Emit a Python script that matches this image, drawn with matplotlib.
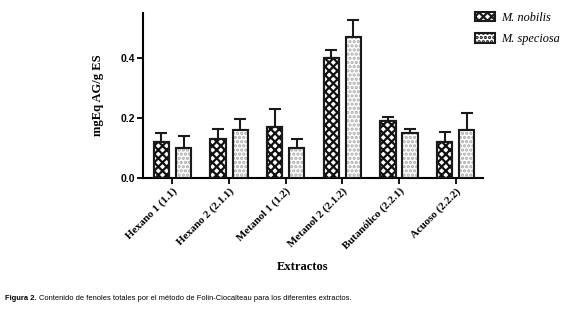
import matplotlib
matplotlib.use("Agg")
import matplotlib.pyplot as plt
from matplotlib import font_manager
import numpy as np

categories = ["Hexano 1 (1.1)", "Hexano 2 (2.1.1)", "Metanol 1 (1.2)",
              "Metanol 2 (2.1.2)", "Butanólico (2.2.1)", "Acuoso (2.2.2)"]
nobilis = [0.12, 0.13, 0.17, 0.40, 0.19, 0.12]
nobilis_err = [0.03, 0.033, 0.06, 0.027, 0.013, 0.033]
speciosa = [0.10, 0.16, 0.10, 0.47, 0.15, 0.16]
speciosa_err = [0.04, 0.035, 0.03, 0.057, 0.012, 0.055]
yticks = [0.0, 0.2, 0.4]

installed = {f.name for f in font_manager.fontManager.ttflist}
narrow = 'Liberation Sans Narrow' in installed
cap_family = 'Liberation Sans Narrow' if narrow else 'Liberation Sans'
cap_size = 6.55 if narrow else 5.4

plt.rcParams['hatch.linewidth'] = 1.6
fig = plt.figure(figsize=(5.66, 3.16), dpi=100)
ax = fig.add_axes([0.2527, 0.4367, 0.853 - 0.2527, 0.9589 - 0.4367])

x = np.arange(len(categories))
w = 0.27
off = 0.195
serif = 'Liberation Serif'

b1 = ax.bar(x - off, nobilis, w, color='white', edgecolor='#111111', hatch='xxxx',
            linewidth=1.5, label='M. nobilis', zorder=2)
b2 = ax.bar(x + off, speciosa, w, color='white', edgecolor='#aaaaaa', hatch='....',
            linewidth=1.5, label='M. speciosa', zorder=2)
ax.bar(x + off, speciosa, w, fill=False, edgecolor='#1a1a1a', linewidth=1.5, zorder=3)
ax.bar(x - off, nobilis, w, fill=False, edgecolor='#1a1a1a', linewidth=1.5, zorder=3)

ax.errorbar(x - off, nobilis, yerr=[np.zeros(len(nobilis)), nobilis_err], fmt='none',
            ecolor='#1a1a1a', elinewidth=1.5, capsize=4.3, capthick=1.5, zorder=1)
ax.errorbar(x + off, speciosa, yerr=[np.zeros(len(speciosa)), speciosa_err], fmt='none',
            ecolor='#1a1a1a', elinewidth=1.5, capsize=4.3, capthick=1.5, zorder=1)

ax.set_xlim(-0.52, 5.48)
ax.set_ylim(0, 0.55)
ax.set_yticks(yticks)
ax.set_yticklabels([f"{v:.1f}" for v in yticks], fontsize=7.5, fontweight='bold',
                   family='Liberation Sans')
ax.set_xticks(x)
ax.set_xticklabels(categories, rotation=45, ha='right', rotation_mode='anchor',
                   fontsize=7.8, fontweight='bold', family=serif)
ax.spines['top'].set_visible(False)
ax.spines['right'].set_visible(False)
for s in ['left', 'bottom']:
    ax.spines[s].set_linewidth(1.5)
ax.tick_params(width=1.3, length=4, pad=2)
ax.set_ylabel("mgEq AG/g ES", fontsize=9, fontweight='bold', family=serif, labelpad=12)
ax.set_xlabel("Extractos", fontsize=9, fontweight='bold', family=serif, labelpad=8)
ax.xaxis.set_label_coords(0.47, -0.505)

leg = ax.legend(handles=[b1, b2], loc='upper left', bbox_to_anchor=(0.945, 1.075),
                frameon=False, prop={'family': serif, 'style': 'italic', 'size': 8.8},
                handlelength=1.65, handleheight=0.8, handletextpad=0.5, labelspacing=0.8)
for p in leg.get_patches():
    p.set_edgecolor('#1a1a1a')

t1 = fig.text(0.008, 0.055, "Figura 2.", fontsize=cap_size, family=cap_family,
              fontweight='bold', va='center')
renderer = fig.canvas.get_renderer()
bb = t1.get_window_extent(renderer)
x2 = (bb.x1 + 3) / fig.bbox.width
fig.text(x2, 0.055, "Contenido de fenoles totales por el método de Folin-Ciocalteau para los diferentes extractos.",
         fontsize=cap_size, family=cap_family, va='center')

fig.savefig("out.png", dpi=100)
